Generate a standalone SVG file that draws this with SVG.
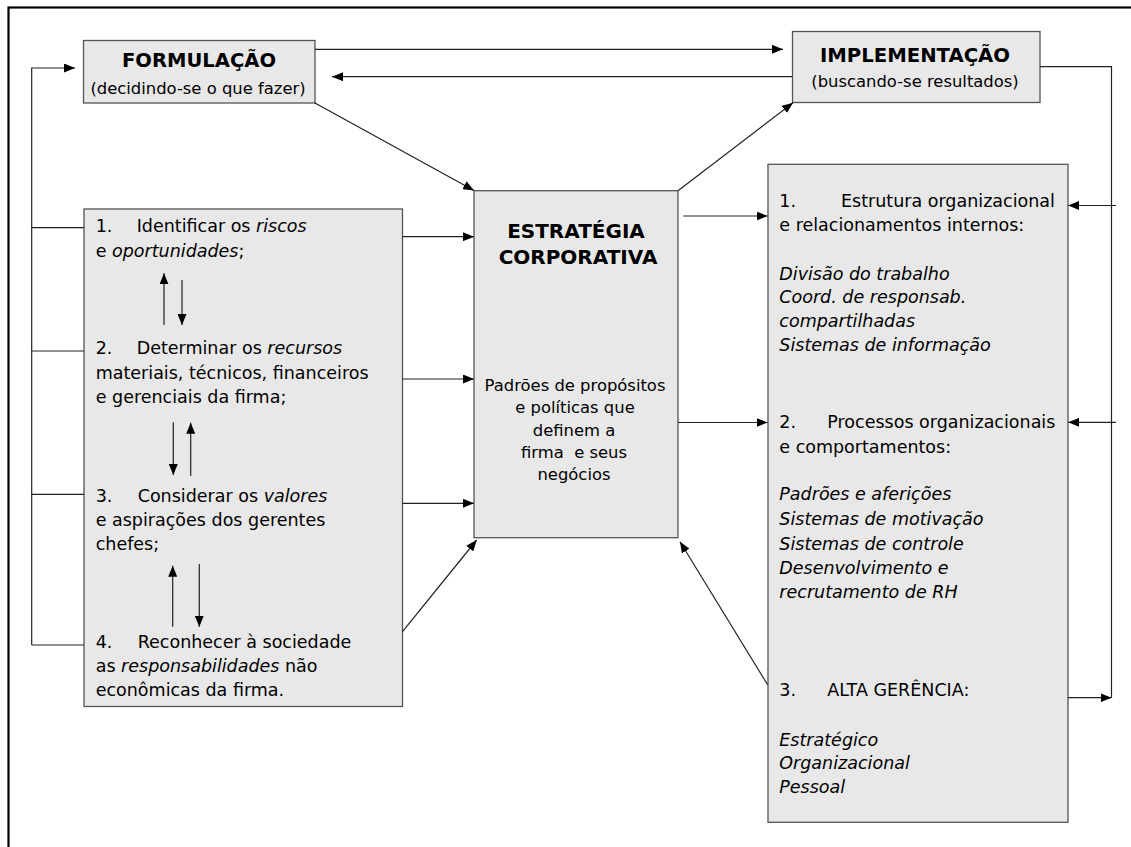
<svg xmlns="http://www.w3.org/2000/svg" width="1131" height="847" viewBox="0 0 1131 847">
  <style>
    .box { fill: #e8e8e8; stroke: #555; stroke-width: 1.3; }
    .ln { fill: none; stroke: #222; stroke-width: 1.2; }
    .arr { fill: none; stroke: #222; stroke-width: 1.2; marker-end: url(#ah); }
    text { font-family: "DejaVu Sans", Verdana, sans-serif; fill: #000; }
    .title { font-weight: bold; font-size: 19.5px; text-anchor: middle; }
    .sub { font-size: 16.4px; text-anchor: middle; }
    .item { font-size: 17.5px; }
    .ctr { font-size: 16.4px; text-anchor: middle; }
    .it { font-style: italic; }
  </style>
  <defs>
    <marker id="ah" viewBox="0 0 11 9" refX="11" refY="4.5" markerWidth="11" markerHeight="9" orient="auto" markerUnits="userSpaceOnUse">
      <path d="M0,0 L11,4.5 L0,9 z" fill="#000"/>
    </marker>
  </defs>

  <rect x="0" y="0" width="1131" height="847" fill="#fff"/>
  <!-- page frame -->
  <rect x="8.5" y="7.5" width="1140" height="860" fill="none" stroke="#000" stroke-width="2.2"/>

  <g id="formulacao">
    <rect class="box" x="83.5" y="40.5" width="231.5" height="62.5"/>
    <text class="title" x="199" y="66.7" textLength="154" lengthAdjust="spacingAndGlyphs">FORMULAÇÃO</text>
    <text class="sub" x="198" y="94">(decidindo-se o que fazer)</text>
  </g>

  <g id="implementacao">
    <rect class="box" x="792.5" y="31.5" width="247.5" height="71"/>
    <text class="title" x="915" y="61.7" textLength="190" lengthAdjust="spacingAndGlyphs">IMPLEMENTAÇÃO</text>
    <text class="sub" x="915" y="87.3">(buscando-se resultados)</text>
  </g>

  <g id="estrategia">
    <rect class="box" x="474" y="190.7" width="204" height="347"/>
    <text class="title" x="576" y="238.3" style="font-size:20px">ESTRATÉGIA</text>
    <text class="title" x="578" y="264.3" style="font-size:20px">CORPORATIVA</text>
    <text class="ctr" x="575" y="391">Padrões de propósitos</text>
    <text class="ctr" x="575" y="413.3">e políticas que</text>
    <text class="ctr" x="574" y="435.7">definem a</text>
    <text class="ctr" x="574" y="458.3" style="white-space:pre">firma  e seus</text>
    <text class="ctr" x="574" y="480">negócios</text>
  </g>

  <g id="formulacao-itens">
    <rect class="box" x="84" y="209" width="318.5" height="497.5"/>
    <text class="item" y="232.3"><tspan x="95.7">1.</tspan><tspan x="136.7">Identificar os </tspan><tspan class="it">riscos</tspan></text>
    <text class="item" x="95.7" y="256.7">e <tspan class="it">oportunidades</tspan>;</text>
    <text class="item" y="354.3"><tspan x="95.7">2.</tspan><tspan x="136.7">Determinar os </tspan><tspan class="it">recursos</tspan></text>
    <text class="item" x="95.7" y="379.3">materiais, técnicos, financeiros</text>
    <text class="item" x="95.7" y="403.3">e gerenciais da firma;</text>
    <text class="item" y="502.3"><tspan x="95.7">3.</tspan><tspan x="137.7">Considerar os </tspan><tspan class="it">valores</tspan></text>
    <text class="item" x="95.7" y="526">e aspirações dos gerentes</text>
    <text class="item" x="95.7" y="550">chefes;</text>
    <text class="item" y="647.7"><tspan x="95.7">4.</tspan><tspan x="137.7">Reconhecer à sociedade</tspan></text>
    <text class="item" x="95.7" y="671.7">as <tspan class="it">responsabilidades</tspan> não</text>
    <text class="item" x="95.7" y="696">econômicas da firma.</text>
  </g>

  <g id="implementacao-itens">
    <rect class="box" x="768" y="164.3" width="300" height="658"/>
    <text class="item" y="206.7"><tspan x="779.3">1.</tspan><tspan x="841">Estrutura organizacional</tspan></text>
    <text class="item" x="779.3" y="231">e relacionamentos internos:</text>
    <text class="item it" x="779.3" y="280">Divisão do trabalho</text>
    <text class="item it" x="779.3" y="303.3">Coord. de responsab.</text>
    <text class="item it" x="779.3" y="326.7">compartilhadas</text>
    <text class="item it" x="779.3" y="351">Sistemas de informação</text>
    <text class="item" y="428.3"><tspan x="779.3">2.</tspan><tspan x="827.3">Processos organizacionais</tspan></text>
    <text class="item" x="779.3" y="452.7">e comportamentos:</text>
    <text class="item it" x="779.3" y="500">Padrões e aferições</text>
    <text class="item it" x="779.3" y="525">Sistemas de motivação</text>
    <text class="item it" x="779.3" y="550">Sistemas de controle</text>
    <text class="item it" x="779.3" y="574">Desenvolvimento e</text>
    <text class="item it" x="779.3" y="598.3">recrutamento de RH</text>
    <text class="item" y="695.7"><tspan x="779.3">3.</tspan><tspan x="827.3">ALTA GERÊNCIA:</tspan></text>
    <text class="item it" x="779.3" y="745.7">Estratégico</text>
    <text class="item it" x="779.3" y="769.3">Organizacional</text>
    <text class="item it" x="779.3" y="793.3">Pessoal</text>
  </g>

  <g id="connectors">
    <!-- top: formulação <-> implementação -->
    <path class="arr" d="M315,49.3 H783"/>
    <path class="arr" d="M792.5,76.7 H332"/>
    <!-- diagonals through the strategy box -->
    <path class="arr" d="M314.5,102.7 L474,190.5"/>
    <path class="arr" d="M678,190.7 L793,102.7"/>
    <!-- left feedback bus -->
    <path class="arr" d="M31.7,645 V68 H75"/>
    <path class="ln" d="M31.7,227.7 H84"/>
    <path class="ln" d="M31.7,351 H84"/>
    <path class="ln" d="M31.7,494.3 H84"/>
    <path class="ln" d="M31.7,645 H84"/>
    <!-- left items into strategy -->
    <path class="arr" d="M402.5,236.7 H474"/>
    <path class="arr" d="M402.5,379 H474"/>
    <path class="arr" d="M402.5,503.3 H474"/>
    <path class="arr" d="M402.5,631.7 L476.7,540"/>
    <!-- links between left items -->
    <path class="arr" d="M164,325 V273.3"/>
    <path class="arr" d="M182,280 V325"/>
    <path class="arr" d="M173.3,422.3 V475"/>
    <path class="arr" d="M190.7,476 V422.7"/>
    <path class="arr" d="M172.7,626.7 V565.7"/>
    <path class="arr" d="M199.3,564 V626.7"/>
    <!-- strategy into right items -->
    <path class="arr" d="M683.3,216 H767.5"/>
    <path class="arr" d="M678,422.5 H767.5"/>
    <path class="arr" d="M767.7,685 L680,541.7"/>
    <!-- right feedback bus -->
    <path class="ln" d="M1040,66.7 H1111.5 V697.7"/>
    <path class="arr" d="M1116,205.5 H1068.3"/>
    <path class="arr" d="M1116,422.3 H1068.3"/>
    <path class="arr" d="M1068,697.7 H1111.5"/>
  </g>
</svg>
